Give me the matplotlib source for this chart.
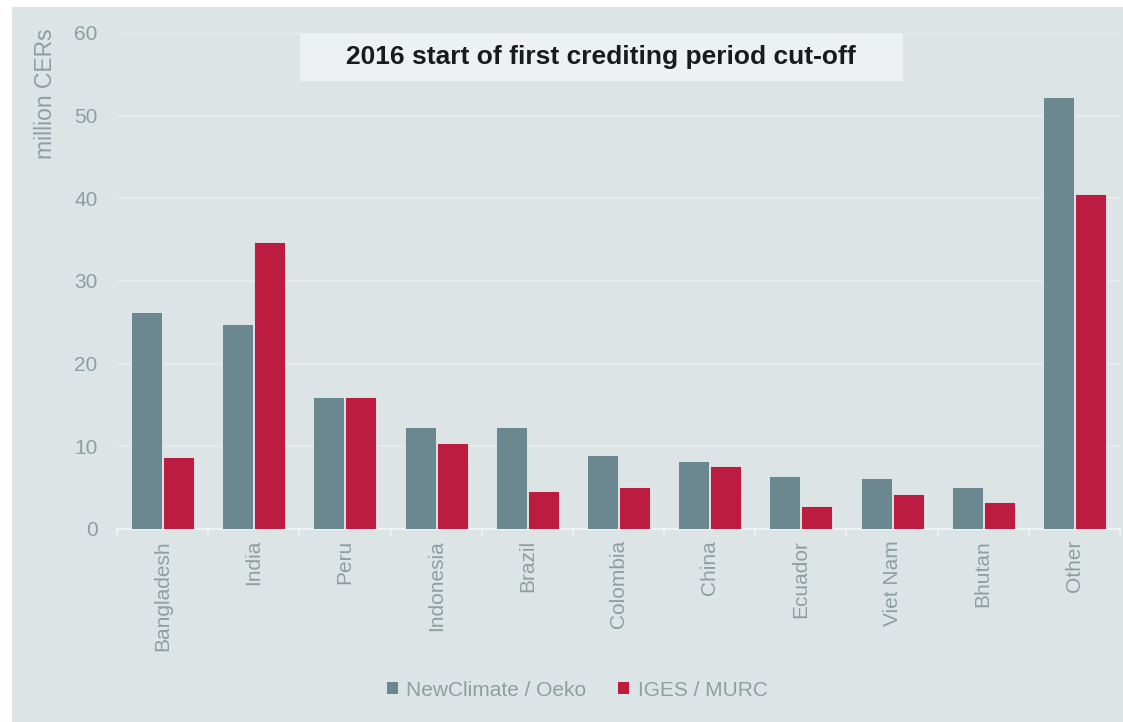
import matplotlib
matplotlib.use("Agg")
from matplotlib import pyplot as plt
from matplotlib.patches import Rectangle, Patch
import numpy as np

# data (million CERs)
countries = ["Bangladesh", "India", "Peru", "Indonesia", "Brazil", "Colombia",
             "China", "Ecuador", "Viet Nam", "Bhutan", "Other"]
newclimate = [26.2, 24.8, 16.0, 12.3, 12.3, 9.0, 8.2, 6.4, 6.2, 5.1, 52.3]
iges = [8.7, 34.7, 16.0, 10.4, 4.6, 5.1, 7.6, 2.8, 4.2, 3.3, 40.5]
series_names = ["NewClimate / Oeko", "IGES / MURC"]
yticks = [0, 10, 20, 30, 40, 50, 60]

bg = "#dde4e6"
grey_bar = "#6b8790"
red_bar = "#bc1c40"
txt = "#8d9ea6"

plt.rcParams['font.family'] = ['Liberation Sans', 'DejaVu Sans']

fig = plt.figure(figsize=(11.23, 7.22), dpi=100)
fig.patch.set_facecolor("white")
# grey panel behind everything
fig.patches.append(Rectangle((12 / 1123, 0), 1 - 12 / 1123, 1 - 7 / 722,
                             transform=fig.transFigure, facecolor=bg,
                             edgecolor="none", zorder=-5))

ax = fig.add_axes([117 / 1123, 1 - 529 / 722, 1003 / 1123, 496 / 722])
ax.set_facecolor("none")

x = np.arange(len(countries))
w = 0.34
ax.bar(x - 0.175, newclimate, w, color=grey_bar, edgecolor="#e6ecee", linewidth=0.6, zorder=3)
ax.bar(x + 0.175, iges, w, color=red_bar, edgecolor="#e6ecee", linewidth=0.6, zorder=3)

ax.set_xlim(-0.5, len(countries) - 0.5)
ax.set_ylim(0, 60)
ax.set_yticks(yticks)
ax.set_yticklabels([str(v) for v in yticks], color=txt, fontsize=15)
ax.tick_params(axis="y", length=0, pad=14)
ax.yaxis.grid(True, color="#e7ecee", linewidth=1.2, zorder=0)
ax.set_axisbelow(True)

# category labels centred on groups, tick marks between groups
ax.set_xticks(x)
ax.set_xticklabels(countries, rotation=90, color=txt, fontsize=15, va="top")
ax.tick_params(axis="x", length=0, pad=8)
ax.set_xticks(np.arange(-0.5, len(countries), 1.0), minor=True)
ax.tick_params(axis="x", which="minor", length=6, color="#eef2f3", width=1.2, direction="out")

for s in ["top", "right", "left"]:
    ax.spines[s].set_visible(False)
ax.spines["bottom"].set_color("#eef2f3")
ax.spines["bottom"].set_linewidth(1.5)

fig.text(45 / 1123, 1 - 28 / 722, "million CERs", rotation=90, color=txt,
         fontsize=16.5, ha="center", va="top")

# title box
fig.patches.append(Rectangle((300 / 1123, 1 - 81 / 722), 603 / 1123, 48 / 722,
                             transform=fig.transFigure, facecolor="#edf1f3",
                             edgecolor="none", zorder=1))
fig.text(601 / 1123, 1 - 57 / 722, "2016 start of first crediting period cut-off",
         ha="center", va="center", fontsize=19, fontweight="bold", color="#1a1a1a", zorder=2)

handles = [Patch(facecolor=grey_bar, edgecolor="none"), Patch(facecolor=red_bar, edgecolor="none")]
fig.legend(handles, series_names, loc="center", bbox_to_anchor=(577 / 1123, 1 - 690 / 722),
           ncol=2, frameon=False, fontsize=15, labelcolor=txt, handlelength=0.55,
           handleheight=0.55, handletextpad=0.4, columnspacing=1.5)

fig.savefig("out.png", dpi=100, facecolor=fig.get_facecolor())
